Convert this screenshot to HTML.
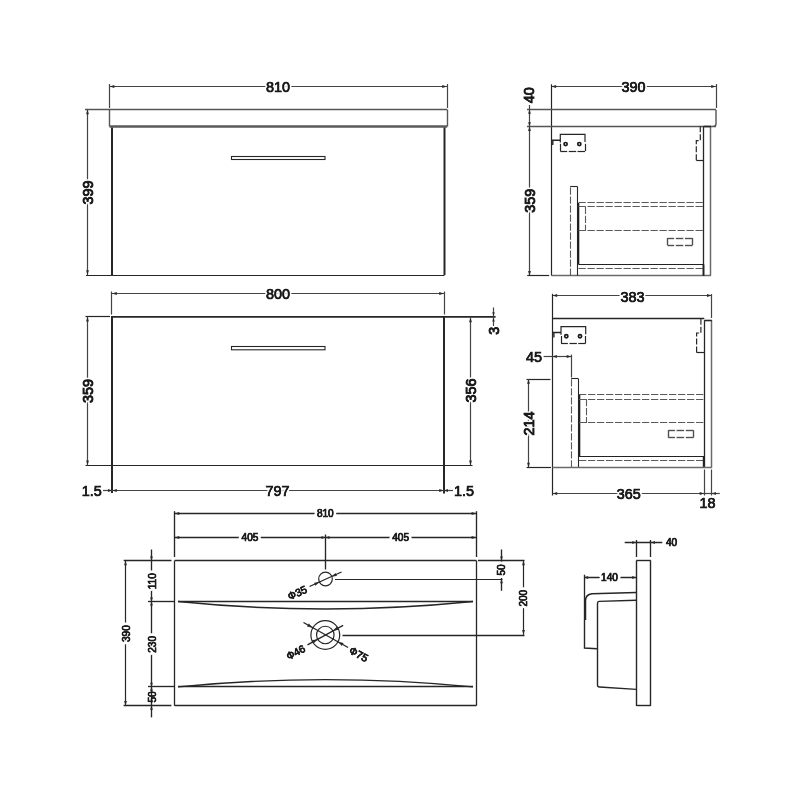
<!DOCTYPE html>
<html><head><meta charset="utf-8"><style>
html,body{margin:0;padding:0;background:#fff;width:800px;height:800px;overflow:hidden}
svg{display:block;will-change:transform}
text{font-family:"Liberation Sans",sans-serif}
</style></head><body>
<svg width="800" height="800" viewBox="0 0 800 800">
<rect width="800" height="800" fill="#fff"/>
<line x1="109.5" y1="86.5" x2="447" y2="86.5" stroke="#444" stroke-width="1.2"/>
<path d="M109.50,86.50 L114.30,85.10 L114.30,87.90 Z" fill="#2a2a2a"/>
<path d="M447.00,86.50 L442.20,87.90 L442.20,85.10 Z" fill="#2a2a2a"/>
<line x1="109.5" y1="84" x2="109.5" y2="108" stroke="#444" stroke-width="1.2"/>
<line x1="447.5" y1="84" x2="447.5" y2="108" stroke="#444" stroke-width="1.2"/>
<line x1="85" y1="109.5" x2="447.2" y2="109.5" stroke="#555" stroke-width="1.4"/>
<line x1="109.5" y1="109.5" x2="109.5" y2="126.5" stroke="#555" stroke-width="1.4"/>
<line x1="447.5" y1="109.5" x2="447.5" y2="126.5" stroke="#555" stroke-width="1.4"/>
<line x1="109.5" y1="126.5" x2="447.2" y2="126.5" stroke="#5a5a5a" stroke-width="2.5"/>
<line x1="112" y1="127.5" x2="112" y2="275" stroke="#262626" stroke-width="2"/>
<line x1="444.5" y1="127.5" x2="444.5" y2="275" stroke="#262626" stroke-width="2"/>
<line x1="86" y1="275.5" x2="444.5" y2="275.5" stroke="#262626" stroke-width="1.2"/>
<rect x="231.5" y="156.5" width="93.5" height="3" stroke="#262626" stroke-width="1.1" fill="none"/>
<line x1="87.5" y1="109.5" x2="87.5" y2="275" stroke="#444" stroke-width="1.2"/>
<path d="M87.50,109.50 L88.90,114.30 L86.10,114.30 Z" fill="#2a2a2a"/>
<path d="M87.50,275.00 L86.10,270.20 L88.90,270.20 Z" fill="#2a2a2a"/>
<line x1="112" y1="293.5" x2="444.4" y2="293.5" stroke="#444" stroke-width="1.2"/>
<path d="M112.00,293.50 L116.80,292.10 L116.80,294.90 Z" fill="#2a2a2a"/>
<path d="M444.00,293.50 L439.20,294.90 L439.20,292.10 Z" fill="#2a2a2a"/>
<line x1="111.5" y1="291.5" x2="111.5" y2="314.5" stroke="#444" stroke-width="1.2"/>
<line x1="444.5" y1="291.5" x2="444.5" y2="314.5" stroke="#444" stroke-width="1.2"/>
<line x1="85.5" y1="316.5" x2="110" y2="316.5" stroke="#262626" stroke-width="1.2"/>
<line x1="111" y1="316.9" x2="495.6" y2="316.9" stroke="#262626" stroke-width="1.8"/>
<line x1="112" y1="316.8" x2="112" y2="493" stroke="#262626" stroke-width="2"/>
<line x1="444" y1="316.8" x2="444" y2="493.5" stroke="#262626" stroke-width="2"/>
<line x1="85.5" y1="465.5" x2="472.5" y2="465.5" stroke="#262626" stroke-width="1.2"/>
<rect x="231.5" y="346.5" width="93.5" height="3.3" stroke="#262626" stroke-width="1.1" fill="none"/>
<line x1="87.5" y1="316.8" x2="87.5" y2="465.3" stroke="#444" stroke-width="1.2"/>
<path d="M87.50,316.80 L88.90,321.60 L86.10,321.60 Z" fill="#2a2a2a"/>
<path d="M87.50,465.30 L86.10,460.50 L88.90,460.50 Z" fill="#2a2a2a"/>
<line x1="470.5" y1="317.5" x2="470.5" y2="465.3" stroke="#444" stroke-width="1.2"/>
<path d="M470.50,317.50 L471.90,322.30 L469.10,322.30 Z" fill="#2a2a2a"/>
<path d="M470.50,465.30 L469.10,460.50 L471.90,460.50 Z" fill="#2a2a2a"/>
<line x1="493.5" y1="307.5" x2="493.5" y2="326" stroke="#444" stroke-width="1.2"/>
<path d="M493.50,316.20 L492.30,312.20 L494.70,312.20 Z" fill="#2a2a2a"/>
<path d="M493.50,317.40 L494.70,321.40 L492.30,321.40 Z" fill="#2a2a2a"/>
<line x1="112" y1="490.5" x2="444" y2="490.5" stroke="#444" stroke-width="1.2"/>
<path d="M112.00,490.50 L116.80,489.10 L116.80,491.90 Z" fill="#2a2a2a"/>
<path d="M444.00,490.50 L439.20,491.90 L439.20,489.10 Z" fill="#2a2a2a"/>
<line x1="103" y1="490.5" x2="112" y2="490.5" stroke="#444" stroke-width="1.2"/>
<path d="M112.00,490.50 L108.00,491.90 L108.00,489.10 Z" fill="#2a2a2a"/>
<line x1="444" y1="490.5" x2="453" y2="490.5" stroke="#444" stroke-width="1.2"/>
<path d="M444.00,490.50 L448.00,489.10 L448.00,491.90 Z" fill="#2a2a2a"/>
<line x1="551.3" y1="86.5" x2="716" y2="86.5" stroke="#444" stroke-width="1.2"/>
<path d="M551.30,86.50 L556.10,85.10 L556.10,87.90 Z" fill="#2a2a2a"/>
<path d="M716.00,86.50 L711.20,87.90 L711.20,85.10 Z" fill="#2a2a2a"/>
<line x1="551.5" y1="84.3" x2="551.5" y2="275.7" stroke="#262626" stroke-width="1.2"/>
<line x1="716.5" y1="84" x2="716.5" y2="108" stroke="#444" stroke-width="1.2"/>
<line x1="527" y1="109.5" x2="716" y2="109.5" stroke="#555" stroke-width="1.4"/>
<line x1="527" y1="126.5" x2="716" y2="126.5" stroke="#555" stroke-width="1.5"/>
<path d="M716,109.8 L716,124 Q716,126.2 713.5,126.2" stroke="#555" stroke-width="1.4" fill="none"/>
<line x1="529.5" y1="105" x2="529.5" y2="126.3" stroke="#444" stroke-width="1.2"/>
<path d="M529.50,109.80 L530.90,113.80 L528.10,113.80 Z" fill="#2a2a2a"/>
<path d="M529.50,126.30 L528.10,122.30 L530.90,122.30 Z" fill="#2a2a2a"/>
<line x1="529.5" y1="126.3" x2="529.5" y2="275.7" stroke="#444" stroke-width="1.2"/>
<path d="M529.50,126.30 L530.90,131.10 L528.10,131.10 Z" fill="#2a2a2a"/>
<path d="M529.50,275.70 L528.10,270.90 L530.90,270.90 Z" fill="#2a2a2a"/>
<line x1="527.2" y1="275.5" x2="549.2" y2="275.5" stroke="#262626" stroke-width="1.2"/>
<line x1="551.3" y1="275.5" x2="710.9" y2="275.5" stroke="#6a6a6a" stroke-width="1.7"/>
<path d="M560.3,142.5 L560.3,134.4 L585.0,134.4 L585.0,142.0" stroke="#262626" stroke-width="1.2" fill="none"/>
<line x1="560.5" y1="143.8" x2="560.5" y2="151.1" stroke="#262626" stroke-width="1.2"/>
<line x1="585.5" y1="143.8" x2="585.5" y2="151.1" stroke="#262626" stroke-width="1.2"/>
<line x1="560.3" y1="151.5" x2="567.1999999999999" y2="151.5" stroke="#262626" stroke-width="1.2"/>
<line x1="568.8" y1="151.5" x2="576.1999999999999" y2="151.5" stroke="#262626" stroke-width="1.2"/>
<line x1="577.5" y1="151.5" x2="585.0" y2="151.5" stroke="#262626" stroke-width="1.2"/>
<circle cx="565.5999999999999" cy="144.1" r="1.6" stroke="#1a1a1a" stroke-width="1.7" fill="none"/>
<circle cx="579.3" cy="144.1" r="1.6" stroke="#1a1a1a" stroke-width="1.7" fill="none"/>
<path d="M551.3,140.2 L560.3,140.2 M552.8,140.2 L552.8,145" stroke="#262626" stroke-width="1.4" fill="none"/>
<path d="M700.3,126.3 L700.3,140.6 L696.3,140.6 L696.3,160.3" stroke="#262626" stroke-width="1.2" fill="none" stroke-dasharray="6 2"/>
<line x1="696.3" y1="160.5" x2="703.5" y2="160.5" stroke="#262626" stroke-width="1.2"/>
<line x1="703.5" y1="126.6" x2="703.5" y2="275.7" stroke="#262626" stroke-width="1.3"/>
<line x1="710.5" y1="126.6" x2="710.5" y2="275.7" stroke="#6a6a6a" stroke-width="1.5"/>
<line x1="703.6" y1="126.5" x2="710.9" y2="126.5" stroke="#262626" stroke-width="1.6"/>
<line x1="570.5" y1="275.7" x2="570.5" y2="186.5" stroke="#5a5a5a" stroke-width="1.1" stroke-dasharray="7.3 1.7"/>
<line x1="570.2" y1="186.5" x2="577.4" y2="186.5" stroke="#262626" stroke-width="1.1"/>
<line x1="577.5" y1="186.5" x2="577.5" y2="275.7" stroke="#262626" stroke-width="1.1"/>
<line x1="578.5" y1="203" x2="578.5" y2="264.5" stroke="#1e1e1e" stroke-width="1.6"/>
<line x1="578.5" y1="202.5" x2="703.5" y2="202.5" stroke="#5a5a5a" stroke-width="1.1" stroke-dasharray="7.3 1.7"/>
<line x1="578.5" y1="206.5" x2="703.5" y2="206.5" stroke="#5a5a5a" stroke-width="1.1" stroke-dasharray="7.3 1.7"/>
<line x1="585.5" y1="206.8" x2="585.5" y2="230.7" stroke="#5a5a5a" stroke-width="1.1" stroke-dasharray="7.3 1.7"/>
<line x1="578.5" y1="230.5" x2="703.5" y2="230.5" stroke="#5a5a5a" stroke-width="1.1" stroke-dasharray="7.3 1.7"/>
<line x1="578.5" y1="264.5" x2="703.5" y2="264.5" stroke="#222" stroke-width="1.2"/>
<line x1="578.5" y1="268.5" x2="703.5" y2="268.5" stroke="#5a5a5a" stroke-width="1.1" stroke-dasharray="7.3 1.7"/>
<line x1="703.5" y1="264.5" x2="703.5" y2="275.7" stroke="#222" stroke-width="1.8"/>
<line x1="667.5" y1="238.1" x2="667.5" y2="245.2" stroke="#505050" stroke-width="1.4"/>
<line x1="692.5" y1="238.1" x2="692.5" y2="245.2" stroke="#505050" stroke-width="1.4"/>
<line x1="667.5" y1="238.5" x2="674.1" y2="238.5" stroke="#505050" stroke-width="1.4"/>
<line x1="667.5" y1="245.5" x2="674.1" y2="245.5" stroke="#505050" stroke-width="1.4"/>
<line x1="675.8" y1="238.5" x2="683.3" y2="238.5" stroke="#505050" stroke-width="1.4"/>
<line x1="675.8" y1="245.5" x2="683.3" y2="245.5" stroke="#505050" stroke-width="1.4"/>
<line x1="685.0" y1="238.5" x2="692.5" y2="238.5" stroke="#505050" stroke-width="1.4"/>
<line x1="685.0" y1="245.5" x2="692.5" y2="245.5" stroke="#505050" stroke-width="1.4"/>
<line x1="552.4" y1="295.5" x2="711.8" y2="295.5" stroke="#444" stroke-width="1.2"/>
<path d="M552.40,295.50 L557.20,294.10 L557.20,296.90 Z" fill="#2a2a2a"/>
<path d="M711.80,295.50 L707.00,296.90 L707.00,294.10 Z" fill="#2a2a2a"/>
<line x1="552.5" y1="293.8" x2="552.5" y2="495.5" stroke="#262626" stroke-width="1.2"/>
<line x1="711.5" y1="294" x2="711.5" y2="318" stroke="#444" stroke-width="1.2"/>
<line x1="552.4" y1="318.5" x2="704.3" y2="318.5" stroke="#262626" stroke-width="1.3"/>
<line x1="704.5" y1="320.2" x2="704.5" y2="467.7" stroke="#262626" stroke-width="1.3"/>
<line x1="711.5" y1="320.2" x2="711.5" y2="467.7" stroke="#6a6a6a" stroke-width="1.5"/>
<line x1="704.4" y1="320.5" x2="711.9" y2="320.5" stroke="#262626" stroke-width="1.6"/>
<path d="M561,334.70000000000005 L561,326.6 L585.7,326.6 L585.7,334.20000000000005" stroke="#262626" stroke-width="1.2" fill="none"/>
<line x1="561.5" y1="336.0" x2="561.5" y2="343.3" stroke="#262626" stroke-width="1.2"/>
<line x1="585.5" y1="336.0" x2="585.5" y2="343.3" stroke="#262626" stroke-width="1.2"/>
<line x1="561" y1="343.5" x2="567.9" y2="343.5" stroke="#262626" stroke-width="1.2"/>
<line x1="569.5" y1="343.5" x2="576.9" y2="343.5" stroke="#262626" stroke-width="1.2"/>
<line x1="578.2" y1="343.5" x2="585.7" y2="343.5" stroke="#262626" stroke-width="1.2"/>
<circle cx="566.3" cy="336.3" r="1.6" stroke="#1a1a1a" stroke-width="1.7" fill="none"/>
<circle cx="580" cy="336.3" r="1.6" stroke="#1a1a1a" stroke-width="1.7" fill="none"/>
<path d="M552.4,332.5 L561,332.5 M553.9,332.5 L553.9,337.5" stroke="#262626" stroke-width="1.4" fill="none"/>
<path d="M700.9,318.7 L700.9,333 L696.6,333 L696.6,352.8" stroke="#262626" stroke-width="1.2" fill="none" stroke-dasharray="6 2"/>
<line x1="696.6" y1="352.5" x2="704.4" y2="352.5" stroke="#262626" stroke-width="1.2"/>
<line x1="543.6" y1="356.5" x2="571.2" y2="356.5" stroke="#444" stroke-width="1.2"/>
<path d="M552.40,356.50 L556.90,355.10 L556.90,357.90 Z" fill="#2a2a2a"/>
<path d="M571.20,356.50 L566.70,357.90 L566.70,355.10 Z" fill="#2a2a2a"/>
<line x1="571.5" y1="354.6" x2="571.5" y2="377.4" stroke="#444" stroke-width="1.2"/>
<line x1="526.5" y1="379.5" x2="550.5" y2="379.5" stroke="#262626" stroke-width="1.2"/>
<line x1="528.5" y1="379" x2="528.5" y2="467.5" stroke="#444" stroke-width="1.2"/>
<path d="M528.50,379.00 L529.90,383.80 L527.10,383.80 Z" fill="#2a2a2a"/>
<path d="M528.50,467.50 L527.10,462.70 L529.90,462.70 Z" fill="#2a2a2a"/>
<line x1="571.5" y1="467.5" x2="571.5" y2="378.7" stroke="#5a5a5a" stroke-width="1.1" stroke-dasharray="7.3 1.7"/>
<line x1="571.2" y1="378.5" x2="578.4" y2="378.5" stroke="#262626" stroke-width="1.1"/>
<line x1="578.5" y1="378.7" x2="578.5" y2="467.5" stroke="#262626" stroke-width="1.1"/>
<line x1="579.5" y1="395" x2="579.5" y2="456.5" stroke="#1e1e1e" stroke-width="1.6"/>
<line x1="579" y1="394.5" x2="704.3" y2="394.5" stroke="#5a5a5a" stroke-width="1.1" stroke-dasharray="7.3 1.7"/>
<line x1="579" y1="399.5" x2="704.3" y2="399.5" stroke="#5a5a5a" stroke-width="1.1" stroke-dasharray="7.3 1.7"/>
<line x1="586.5" y1="399" x2="586.5" y2="422.9" stroke="#5a5a5a" stroke-width="1.1" stroke-dasharray="7.3 1.7"/>
<line x1="579" y1="422.5" x2="704.3" y2="422.5" stroke="#5a5a5a" stroke-width="1.1" stroke-dasharray="7.3 1.7"/>
<line x1="579" y1="456.5" x2="704.3" y2="456.5" stroke="#222" stroke-width="1.2"/>
<line x1="579" y1="460.5" x2="704.3" y2="460.5" stroke="#5a5a5a" stroke-width="1.1" stroke-dasharray="7.3 1.7"/>
<line x1="703.7" y1="456.5" x2="703.7" y2="467.5" stroke="#222" stroke-width="1.8"/>
<line x1="668.5" y1="430.2" x2="668.5" y2="437.59999999999997" stroke="#505050" stroke-width="1.4"/>
<line x1="693.5" y1="430.2" x2="693.5" y2="437.59999999999997" stroke="#505050" stroke-width="1.4"/>
<line x1="668.3" y1="430.5" x2="674.9" y2="430.5" stroke="#505050" stroke-width="1.4"/>
<line x1="668.3" y1="437.5" x2="674.9" y2="437.5" stroke="#505050" stroke-width="1.4"/>
<line x1="676.5999999999999" y1="430.5" x2="684.0999999999999" y2="430.5" stroke="#505050" stroke-width="1.4"/>
<line x1="676.5999999999999" y1="437.5" x2="684.0999999999999" y2="437.5" stroke="#505050" stroke-width="1.4"/>
<line x1="685.8" y1="430.5" x2="693.4" y2="430.5" stroke="#505050" stroke-width="1.4"/>
<line x1="685.8" y1="437.5" x2="693.4" y2="437.5" stroke="#505050" stroke-width="1.4"/>
<line x1="526.6" y1="467.5" x2="551" y2="467.5" stroke="#262626" stroke-width="1.2"/>
<line x1="552.4" y1="467.5" x2="711.9" y2="467.5" stroke="#6a6a6a" stroke-width="1.7"/>
<line x1="552.4" y1="493.5" x2="704.5" y2="493.5" stroke="#444" stroke-width="1.2"/>
<path d="M552.40,493.50 L557.20,492.10 L557.20,494.90 Z" fill="#2a2a2a"/>
<path d="M704.50,493.50 L699.70,494.90 L699.70,492.10 Z" fill="#2a2a2a"/>
<line x1="704.5" y1="469.5" x2="704.5" y2="495.5" stroke="#444" stroke-width="1.2"/>
<line x1="711.5" y1="469.5" x2="711.5" y2="495.5" stroke="#444" stroke-width="1.2"/>
<line x1="704.5" y1="493.5" x2="719.8" y2="493.5" stroke="#444" stroke-width="1.2"/>
<path d="M711.90,493.50 L715.90,492.10 L715.90,494.90 Z" fill="#2a2a2a"/>
<line x1="174.5" y1="513.5" x2="476.4" y2="513.5" stroke="#262626" stroke-width="1.35"/>
<path d="M174.50,513.50 L179.30,512.10 L179.30,514.90 Z" fill="#2a2a2a"/>
<path d="M476.40,513.50 L471.60,514.90 L471.60,512.10 Z" fill="#2a2a2a"/>
<line x1="174.5" y1="537.5" x2="476.4" y2="537.5" stroke="#262626" stroke-width="1.35"/>
<path d="M174.50,537.50 L179.30,536.10 L179.30,538.90 Z" fill="#2a2a2a"/>
<path d="M476.40,537.50 L471.60,538.90 L471.60,536.10 Z" fill="#2a2a2a"/>
<path d="M325.50,537.50 L321.50,538.90 L321.50,536.10 Z" fill="#2a2a2a"/>
<path d="M325.50,537.50 L329.50,536.10 L329.50,538.90 Z" fill="#2a2a2a"/>
<line x1="174.5" y1="511.2" x2="174.5" y2="557" stroke="#262626" stroke-width="1.35"/>
<line x1="476.5" y1="511.2" x2="476.5" y2="557" stroke="#262626" stroke-width="1.35"/>
<line x1="325.5" y1="534.5" x2="325.5" y2="569.5" stroke="#262626" stroke-width="1.35"/>
<line x1="123.7" y1="560.5" x2="171.5" y2="560.5" stroke="#262626" stroke-width="1.35"/>
<line x1="174.7" y1="560.5" x2="476.4" y2="560.5" stroke="#262626" stroke-width="1.5"/>
<line x1="478" y1="560.5" x2="524.5" y2="560.5" stroke="#262626" stroke-width="1.35"/>
<line x1="174.5" y1="560.5" x2="174.5" y2="705.7" stroke="#262626" stroke-width="1.3"/>
<line x1="476.5" y1="560.5" x2="476.5" y2="705.7" stroke="#262626" stroke-width="1.3"/>
<line x1="174.5" y1="705.5" x2="476.4" y2="705.5" stroke="#262626" stroke-width="1.3"/>
<line x1="123.6" y1="705.5" x2="171.4" y2="705.5" stroke="#262626" stroke-width="1.35"/>
<line x1="125.5" y1="560.5" x2="125.5" y2="705.7" stroke="#262626" stroke-width="1.2"/>
<path d="M125.50,560.50 L126.90,565.30 L124.10,565.30 Z" fill="#2a2a2a"/>
<path d="M125.50,705.70 L124.10,700.90 L126.90,700.90 Z" fill="#2a2a2a"/>
<line x1="151.5" y1="549.5" x2="151.5" y2="717.4" stroke="#262626" stroke-width="1.35"/>
<path d="M151.50,560.50 L150.10,556.50 L152.90,556.50 Z" fill="#2a2a2a"/>
<path d="M151.50,601.50 L152.90,605.50 L150.10,605.50 Z" fill="#2a2a2a"/>
<path d="M151.50,601.50 L150.10,597.50 L152.90,597.50 Z" fill="#2a2a2a"/>
<path d="M151.50,686.80 L152.90,690.80 L150.10,690.80 Z" fill="#2a2a2a"/>
<path d="M151.50,686.80 L150.10,682.80 L152.90,682.80 Z" fill="#2a2a2a"/>
<path d="M151.50,705.70 L152.90,709.70 L150.10,709.70 Z" fill="#2a2a2a"/>
<line x1="148" y1="601.5" x2="174.5" y2="601.5" stroke="#262626" stroke-width="1.35"/>
<line x1="148" y1="686.5" x2="174.5" y2="686.5" stroke="#262626" stroke-width="1.35"/>
<line x1="178" y1="601.5" x2="473" y2="601.5" stroke="#262626" stroke-width="1.3"/>
<path d="M178,601.5 Q325.5,616.4 473,601.5" stroke="#262626" stroke-width="1.35" fill="none"/>
<line x1="178" y1="686.5" x2="473" y2="686.5" stroke="#262626" stroke-width="1.3"/>
<path d="M178,686.9 Q325.5,672.3 473,686.9" stroke="#262626" stroke-width="1.35" fill="none"/>
<circle cx="325.5" cy="579" r="6.8" stroke="#262626" stroke-width="1.2" fill="none"/>
<line x1="309.5" y1="586.5" x2="341.5" y2="572" stroke="#262626" stroke-width="1.35"/>
<path d="M319.30,582.10 L315.45,585.72 L314.05,582.63 Z" fill="#2a2a2a"/>
<path d="M331.70,576.50 L335.55,572.88 L336.95,575.97 Z" fill="#2a2a2a"/>
<line x1="335" y1="579.5" x2="502.5" y2="579.5" stroke="#262626" stroke-width="1.2"/>
<line x1="501.5" y1="549.5" x2="501.5" y2="590.8" stroke="#262626" stroke-width="1.35"/>
<path d="M501.50,560.50 L500.10,556.50 L502.90,556.50 Z" fill="#2a2a2a"/>
<path d="M501.50,579.30 L502.90,583.30 L500.10,583.30 Z" fill="#2a2a2a"/>
<line x1="523.5" y1="560.5" x2="523.5" y2="634.8" stroke="#262626" stroke-width="1.2"/>
<path d="M523.50,560.50 L524.90,565.30 L522.10,565.30 Z" fill="#2a2a2a"/>
<path d="M523.50,634.80 L522.10,630.00 L524.90,630.00 Z" fill="#2a2a2a"/>
<circle cx="325.3" cy="635" r="14.4" stroke="#262626" stroke-width="1.2" fill="none"/>
<circle cx="325.3" cy="635" r="8.75" stroke="#262626" stroke-width="1.2" fill="none"/>
<line x1="303.5" y1="622.5" x2="348.1" y2="647.5" stroke="#262626" stroke-width="1.35"/>
<path d="M312.70,627.70 L307.02,626.58 L308.78,623.44 Z" fill="#2a2a2a"/>
<path d="M337.90,641.80 L343.58,642.92 L341.82,646.06 Z" fill="#2a2a2a"/>
<line x1="307.5" y1="644.8" x2="343.1" y2="625.3" stroke="#262626" stroke-width="1.35"/>
<path d="M317.60,639.20 L313.64,643.42 L311.91,640.26 Z" fill="#2a2a2a"/>
<path d="M333.00,630.80 L336.96,626.58 L338.69,629.74 Z" fill="#2a2a2a"/>
<line x1="342.5" y1="635.5" x2="524.5" y2="635.5" stroke="#262626" stroke-width="1.35"/>
<line x1="636.5" y1="560.5" x2="636.5" y2="705.9" stroke="#262626" stroke-width="1.4"/>
<line x1="650.5" y1="560.5" x2="650.5" y2="705.9" stroke="#262626" stroke-width="1.4"/>
<line x1="636.3" y1="560.5" x2="650.8" y2="560.5" stroke="#262626" stroke-width="1.4"/>
<line x1="636.3" y1="705.5" x2="650.8" y2="705.5" stroke="#262626" stroke-width="1.4"/>
<line x1="636.5" y1="540" x2="636.5" y2="557" stroke="#262626" stroke-width="1.35"/>
<line x1="650.5" y1="540" x2="650.5" y2="557" stroke="#262626" stroke-width="1.35"/>
<line x1="624.7" y1="542.5" x2="662.3" y2="542.5" stroke="#262626" stroke-width="1.35"/>
<path d="M636.20,542.50 L632.20,543.90 L632.20,541.10 Z" fill="#2a2a2a"/>
<path d="M651.00,542.50 L655.00,541.10 L655.00,543.90 Z" fill="#2a2a2a"/>
<line x1="584.5" y1="574.7" x2="584.5" y2="620" stroke="#262626" stroke-width="1.35"/>
<line x1="584.1" y1="577.5" x2="636.2" y2="577.5" stroke="#262626" stroke-width="1.35"/>
<path d="M584.10,577.50 L588.10,576.10 L588.10,578.90 Z" fill="#2a2a2a"/>
<path d="M636.20,577.50 L632.20,578.90 L632.20,576.10 Z" fill="#2a2a2a"/>
<path d="M636.2,592.5 L592,593.8 Q585.5,594.5 585.5,601 L585.5,620" stroke="#262626" stroke-width="1.5" fill="none"/>
<path d="M584.5,620 L584.5,648 L596.9,648.8" stroke="#262626" stroke-width="1.4" fill="none"/>
<path d="M636.2,600.2 L599,601.4 Q597.5,601.5 597.5,603.5 L597.5,685 Q597.5,687 599.5,687 L636.2,689.4" stroke="#262626" stroke-width="1.4" fill="none"/>
<text x="0" y="0" transform="translate(278,87) rotate(0) scale(0.96,1)" font-size="15.0" font-weight="normal" text-anchor="middle" dominant-baseline="central" fill="#1a1a1a" stroke="#fff" stroke-width="4" paint-order="stroke" stroke-linejoin="round">810</text>
<text x="0" y="0" transform="translate(278,87) rotate(0) scale(0.96,1)" font-size="15.0" font-weight="normal" text-anchor="middle" dominant-baseline="central" fill="#1a1a1a" stroke="#1a1a1a" stroke-width="0.7">810</text>
<text x="0" y="0" transform="translate(88,192.5) rotate(-90) scale(0.96,1)" font-size="15.0" font-weight="normal" text-anchor="middle" dominant-baseline="central" fill="#1a1a1a" stroke="#fff" stroke-width="4" paint-order="stroke" stroke-linejoin="round">399</text>
<text x="0" y="0" transform="translate(88,192.5) rotate(-90) scale(0.96,1)" font-size="15.0" font-weight="normal" text-anchor="middle" dominant-baseline="central" fill="#1a1a1a" stroke="#1a1a1a" stroke-width="0.8999999999999999">399</text>
<text x="0" y="0" transform="translate(278,294) rotate(0) scale(0.96,1)" font-size="15.0" font-weight="normal" text-anchor="middle" dominant-baseline="central" fill="#1a1a1a" stroke="#fff" stroke-width="4" paint-order="stroke" stroke-linejoin="round">800</text>
<text x="0" y="0" transform="translate(278,294) rotate(0) scale(0.96,1)" font-size="15.0" font-weight="normal" text-anchor="middle" dominant-baseline="central" fill="#1a1a1a" stroke="#1a1a1a" stroke-width="0.7">800</text>
<text x="0" y="0" transform="translate(88,391) rotate(-90) scale(0.96,1)" font-size="15.0" font-weight="normal" text-anchor="middle" dominant-baseline="central" fill="#1a1a1a" stroke="#fff" stroke-width="4" paint-order="stroke" stroke-linejoin="round">359</text>
<text x="0" y="0" transform="translate(88,391) rotate(-90) scale(0.96,1)" font-size="15.0" font-weight="normal" text-anchor="middle" dominant-baseline="central" fill="#1a1a1a" stroke="#1a1a1a" stroke-width="0.8999999999999999">359</text>
<text x="0" y="0" transform="translate(470.5,390.5) rotate(-90) scale(0.96,1)" font-size="15.0" font-weight="normal" text-anchor="middle" dominant-baseline="central" fill="#1a1a1a" stroke="#fff" stroke-width="4" paint-order="stroke" stroke-linejoin="round">356</text>
<text x="0" y="0" transform="translate(470.5,390.5) rotate(-90) scale(0.96,1)" font-size="15.0" font-weight="normal" text-anchor="middle" dominant-baseline="central" fill="#1a1a1a" stroke="#1a1a1a" stroke-width="0.8999999999999999">356</text>
<text x="0" y="0" transform="translate(493.8,330.8) rotate(-90) scale(0.96,1)" font-size="15.0" font-weight="normal" text-anchor="middle" dominant-baseline="central" fill="#1a1a1a" stroke="#fff" stroke-width="4" paint-order="stroke" stroke-linejoin="round">3</text>
<text x="0" y="0" transform="translate(493.8,330.8) rotate(-90) scale(0.96,1)" font-size="15.0" font-weight="normal" text-anchor="middle" dominant-baseline="central" fill="#1a1a1a" stroke="#1a1a1a" stroke-width="0.8999999999999999">3</text>
<text x="0" y="0" transform="translate(277.5,491.2) rotate(0) scale(0.96,1)" font-size="15.0" font-weight="normal" text-anchor="middle" dominant-baseline="central" fill="#1a1a1a" stroke="#fff" stroke-width="4" paint-order="stroke" stroke-linejoin="round">797</text>
<text x="0" y="0" transform="translate(277.5,491.2) rotate(0) scale(0.96,1)" font-size="15.0" font-weight="normal" text-anchor="middle" dominant-baseline="central" fill="#1a1a1a" stroke="#1a1a1a" stroke-width="0.7">797</text>
<text x="0" y="0" transform="translate(91.7,491.2) rotate(0) scale(0.96,1)" font-size="15.0" font-weight="normal" text-anchor="middle" dominant-baseline="central" fill="#1a1a1a" stroke="#fff" stroke-width="4" paint-order="stroke" stroke-linejoin="round">1.5</text>
<text x="0" y="0" transform="translate(91.7,491.2) rotate(0) scale(0.96,1)" font-size="15.0" font-weight="normal" text-anchor="middle" dominant-baseline="central" fill="#1a1a1a" stroke="#1a1a1a" stroke-width="0.7">1.5</text>
<text x="0" y="0" transform="translate(463.9,491.2) rotate(0) scale(0.96,1)" font-size="15.0" font-weight="normal" text-anchor="middle" dominant-baseline="central" fill="#1a1a1a" stroke="#fff" stroke-width="4" paint-order="stroke" stroke-linejoin="round">1.5</text>
<text x="0" y="0" transform="translate(463.9,491.2) rotate(0) scale(0.96,1)" font-size="15.0" font-weight="normal" text-anchor="middle" dominant-baseline="central" fill="#1a1a1a" stroke="#1a1a1a" stroke-width="0.7">1.5</text>
<text x="0" y="0" transform="translate(633.5,87.2) rotate(0) scale(0.96,1)" font-size="15.0" font-weight="normal" text-anchor="middle" dominant-baseline="central" fill="#1a1a1a" stroke="#fff" stroke-width="4" paint-order="stroke" stroke-linejoin="round">390</text>
<text x="0" y="0" transform="translate(633.5,87.2) rotate(0) scale(0.96,1)" font-size="15.0" font-weight="normal" text-anchor="middle" dominant-baseline="central" fill="#1a1a1a" stroke="#1a1a1a" stroke-width="0.7">390</text>
<text x="0" y="0" transform="translate(529.2,95.2) rotate(-90) scale(0.96,1)" font-size="15.0" font-weight="normal" text-anchor="middle" dominant-baseline="central" fill="#1a1a1a" stroke="#fff" stroke-width="4" paint-order="stroke" stroke-linejoin="round">40</text>
<text x="0" y="0" transform="translate(529.2,95.2) rotate(-90) scale(0.96,1)" font-size="15.0" font-weight="normal" text-anchor="middle" dominant-baseline="central" fill="#1a1a1a" stroke="#1a1a1a" stroke-width="0.8999999999999999">40</text>
<text x="0" y="0" transform="translate(529.6,200.7) rotate(-90) scale(0.96,1)" font-size="15.0" font-weight="normal" text-anchor="middle" dominant-baseline="central" fill="#1a1a1a" stroke="#fff" stroke-width="4" paint-order="stroke" stroke-linejoin="round">359</text>
<text x="0" y="0" transform="translate(529.6,200.7) rotate(-90) scale(0.96,1)" font-size="15.0" font-weight="normal" text-anchor="middle" dominant-baseline="central" fill="#1a1a1a" stroke="#1a1a1a" stroke-width="0.8999999999999999">359</text>
<text x="0" y="0" transform="translate(632.4,296.5) rotate(0) scale(0.96,1)" font-size="15.0" font-weight="normal" text-anchor="middle" dominant-baseline="central" fill="#1a1a1a" stroke="#fff" stroke-width="4" paint-order="stroke" stroke-linejoin="round">383</text>
<text x="0" y="0" transform="translate(632.4,296.5) rotate(0) scale(0.96,1)" font-size="15.0" font-weight="normal" text-anchor="middle" dominant-baseline="central" fill="#1a1a1a" stroke="#1a1a1a" stroke-width="0.7">383</text>
<text x="0" y="0" transform="translate(534,357.3) rotate(0) scale(0.96,1)" font-size="15.0" font-weight="normal" text-anchor="middle" dominant-baseline="central" fill="#1a1a1a" stroke="#fff" stroke-width="4" paint-order="stroke" stroke-linejoin="round">45</text>
<text x="0" y="0" transform="translate(534,357.3) rotate(0) scale(0.96,1)" font-size="15.0" font-weight="normal" text-anchor="middle" dominant-baseline="central" fill="#1a1a1a" stroke="#1a1a1a" stroke-width="0.7">45</text>
<text x="0" y="0" transform="translate(529.1,423.6) rotate(-90) scale(0.96,1)" font-size="15.0" font-weight="normal" text-anchor="middle" dominant-baseline="central" fill="#1a1a1a" stroke="#fff" stroke-width="4" paint-order="stroke" stroke-linejoin="round">214</text>
<text x="0" y="0" transform="translate(529.1,423.6) rotate(-90) scale(0.96,1)" font-size="15.0" font-weight="normal" text-anchor="middle" dominant-baseline="central" fill="#1a1a1a" stroke="#1a1a1a" stroke-width="0.8999999999999999">214</text>
<text x="0" y="0" transform="translate(628.7,493.6) rotate(0) scale(0.96,1)" font-size="15.0" font-weight="normal" text-anchor="middle" dominant-baseline="central" fill="#1a1a1a" stroke="#fff" stroke-width="4" paint-order="stroke" stroke-linejoin="round">365</text>
<text x="0" y="0" transform="translate(628.7,493.6) rotate(0) scale(0.96,1)" font-size="15.0" font-weight="normal" text-anchor="middle" dominant-baseline="central" fill="#1a1a1a" stroke="#1a1a1a" stroke-width="0.7">365</text>
<text x="0" y="0" transform="translate(707.5,502.8) rotate(0) scale(0.96,1)" font-size="15.0" font-weight="normal" text-anchor="middle" dominant-baseline="central" fill="#1a1a1a" stroke="#fff" stroke-width="4" paint-order="stroke" stroke-linejoin="round">18</text>
<text x="0" y="0" transform="translate(707.5,502.8) rotate(0) scale(0.96,1)" font-size="15.0" font-weight="normal" text-anchor="middle" dominant-baseline="central" fill="#1a1a1a" stroke="#1a1a1a" stroke-width="0.7">18</text>
<text x="325.3" y="513.2" font-size="10.1" font-weight="normal" text-anchor="middle" dominant-baseline="central" fill="#1a1a1a" stroke="#fff" stroke-width="6" paint-order="stroke" stroke-linejoin="round">810</text>
<text x="325.3" y="513.2" font-size="10.1" font-weight="normal" text-anchor="middle" dominant-baseline="central" fill="#1a1a1a" stroke="#1a1a1a" stroke-width="0.7">810</text>
<text x="250" y="537.3" font-size="10.1" font-weight="normal" text-anchor="middle" dominant-baseline="central" fill="#1a1a1a" stroke="#fff" stroke-width="6" paint-order="stroke" stroke-linejoin="round">405</text>
<text x="250" y="537.3" font-size="10.1" font-weight="normal" text-anchor="middle" dominant-baseline="central" fill="#1a1a1a" stroke="#1a1a1a" stroke-width="0.7">405</text>
<text x="400.6" y="537.3" font-size="10.1" font-weight="normal" text-anchor="middle" dominant-baseline="central" fill="#1a1a1a" stroke="#fff" stroke-width="6" paint-order="stroke" stroke-linejoin="round">405</text>
<text x="400.6" y="537.3" font-size="10.1" font-weight="normal" text-anchor="middle" dominant-baseline="central" fill="#1a1a1a" stroke="#1a1a1a" stroke-width="0.7">405</text>
<text x="0" y="0" transform="translate(126.0,633.6) rotate(-90) scale(1.0,1)" font-size="10.1" font-weight="normal" text-anchor="middle" dominant-baseline="central" fill="#1a1a1a" stroke="#fff" stroke-width="6" paint-order="stroke" stroke-linejoin="round">390</text>
<text x="0" y="0" transform="translate(126.0,633.6) rotate(-90) scale(1.0,1)" font-size="10.1" font-weight="normal" text-anchor="middle" dominant-baseline="central" fill="#1a1a1a" stroke="#1a1a1a" stroke-width="0.7">390</text>
<text x="0" y="0" transform="translate(152.3,581.3) rotate(-90) scale(1.0,1)" font-size="10.1" font-weight="normal" text-anchor="middle" dominant-baseline="central" fill="#1a1a1a" stroke="#fff" stroke-width="6" paint-order="stroke" stroke-linejoin="round">110</text>
<text x="0" y="0" transform="translate(152.3,581.3) rotate(-90) scale(1.0,1)" font-size="10.1" font-weight="normal" text-anchor="middle" dominant-baseline="central" fill="#1a1a1a" stroke="#1a1a1a" stroke-width="0.7">110</text>
<text x="0" y="0" transform="translate(152.3,644.4) rotate(-90) scale(1.0,1)" font-size="10.1" font-weight="normal" text-anchor="middle" dominant-baseline="central" fill="#1a1a1a" stroke="#fff" stroke-width="6" paint-order="stroke" stroke-linejoin="round">230</text>
<text x="0" y="0" transform="translate(152.3,644.4) rotate(-90) scale(1.0,1)" font-size="10.1" font-weight="normal" text-anchor="middle" dominant-baseline="central" fill="#1a1a1a" stroke="#1a1a1a" stroke-width="0.7">230</text>
<text x="0" y="0" transform="translate(152.2,696.9) rotate(-90) scale(1.0,1)" font-size="10.1" font-weight="normal" text-anchor="middle" dominant-baseline="central" fill="#1a1a1a">50</text>
<text x="0" y="0" transform="translate(152.2,696.9) rotate(-90) scale(1.0,1)" font-size="10.1" font-weight="normal" text-anchor="middle" dominant-baseline="central" fill="#1a1a1a" stroke="#1a1a1a" stroke-width="0.7">50</text>
<text x="0" y="0" transform="translate(297.3,592.5) rotate(-24) scale(1.0,1)" font-size="10.6" font-weight="normal" text-anchor="middle" dominant-baseline="central" fill="#1a1a1a">&#x424;35</text>
<text x="0" y="0" transform="translate(297.3,592.5) rotate(-24) scale(1.0,1)" font-size="10.6" font-weight="normal" text-anchor="middle" dominant-baseline="central" fill="#1a1a1a" stroke="#1a1a1a" stroke-width="0.7">&#x424;35</text>
<text x="0" y="0" transform="translate(501.8,570) rotate(-90) scale(1.0,1)" font-size="10.1" font-weight="normal" text-anchor="middle" dominant-baseline="central" fill="#1a1a1a" stroke="#fff" stroke-width="6" paint-order="stroke" stroke-linejoin="round">50</text>
<text x="0" y="0" transform="translate(501.8,570) rotate(-90) scale(1.0,1)" font-size="10.1" font-weight="normal" text-anchor="middle" dominant-baseline="central" fill="#1a1a1a" stroke="#1a1a1a" stroke-width="0.7">50</text>
<text x="0" y="0" transform="translate(523.2,598.2) rotate(-90) scale(1.0,1)" font-size="10.1" font-weight="normal" text-anchor="middle" dominant-baseline="central" fill="#1a1a1a" stroke="#fff" stroke-width="6" paint-order="stroke" stroke-linejoin="round">200</text>
<text x="0" y="0" transform="translate(523.2,598.2) rotate(-90) scale(1.0,1)" font-size="10.1" font-weight="normal" text-anchor="middle" dominant-baseline="central" fill="#1a1a1a" stroke="#1a1a1a" stroke-width="0.7">200</text>
<text x="0" y="0" transform="translate(295.6,652) rotate(-28) scale(1.0,1)" font-size="10.6" font-weight="normal" text-anchor="middle" dominant-baseline="central" fill="#1a1a1a">&#x424;46</text>
<text x="0" y="0" transform="translate(295.6,652) rotate(-28) scale(1.0,1)" font-size="10.6" font-weight="normal" text-anchor="middle" dominant-baseline="central" fill="#1a1a1a" stroke="#1a1a1a" stroke-width="0.7">&#x424;46</text>
<text x="0" y="0" transform="translate(358.9,654) rotate(28) scale(1.0,1)" font-size="10.6" font-weight="normal" text-anchor="middle" dominant-baseline="central" fill="#1a1a1a">&#x424;75</text>
<text x="0" y="0" transform="translate(358.9,654) rotate(28) scale(1.0,1)" font-size="10.6" font-weight="normal" text-anchor="middle" dominant-baseline="central" fill="#1a1a1a" stroke="#1a1a1a" stroke-width="0.7">&#x424;75</text>
<text x="671.5" y="542.5" font-size="10.1" font-weight="normal" text-anchor="middle" dominant-baseline="central" fill="#1a1a1a" stroke="#fff" stroke-width="6" paint-order="stroke" stroke-linejoin="round">40</text>
<text x="671.5" y="542.5" font-size="10.1" font-weight="normal" text-anchor="middle" dominant-baseline="central" fill="#1a1a1a" stroke="#1a1a1a" stroke-width="0.7">40</text>
<text x="609.5" y="577.6" font-size="10.1" font-weight="normal" text-anchor="middle" dominant-baseline="central" fill="#1a1a1a" stroke="#fff" stroke-width="6" paint-order="stroke" stroke-linejoin="round">140</text>
<text x="609.5" y="577.6" font-size="10.1" font-weight="normal" text-anchor="middle" dominant-baseline="central" fill="#1a1a1a" stroke="#1a1a1a" stroke-width="0.7">140</text>
</svg>
</body></html>
